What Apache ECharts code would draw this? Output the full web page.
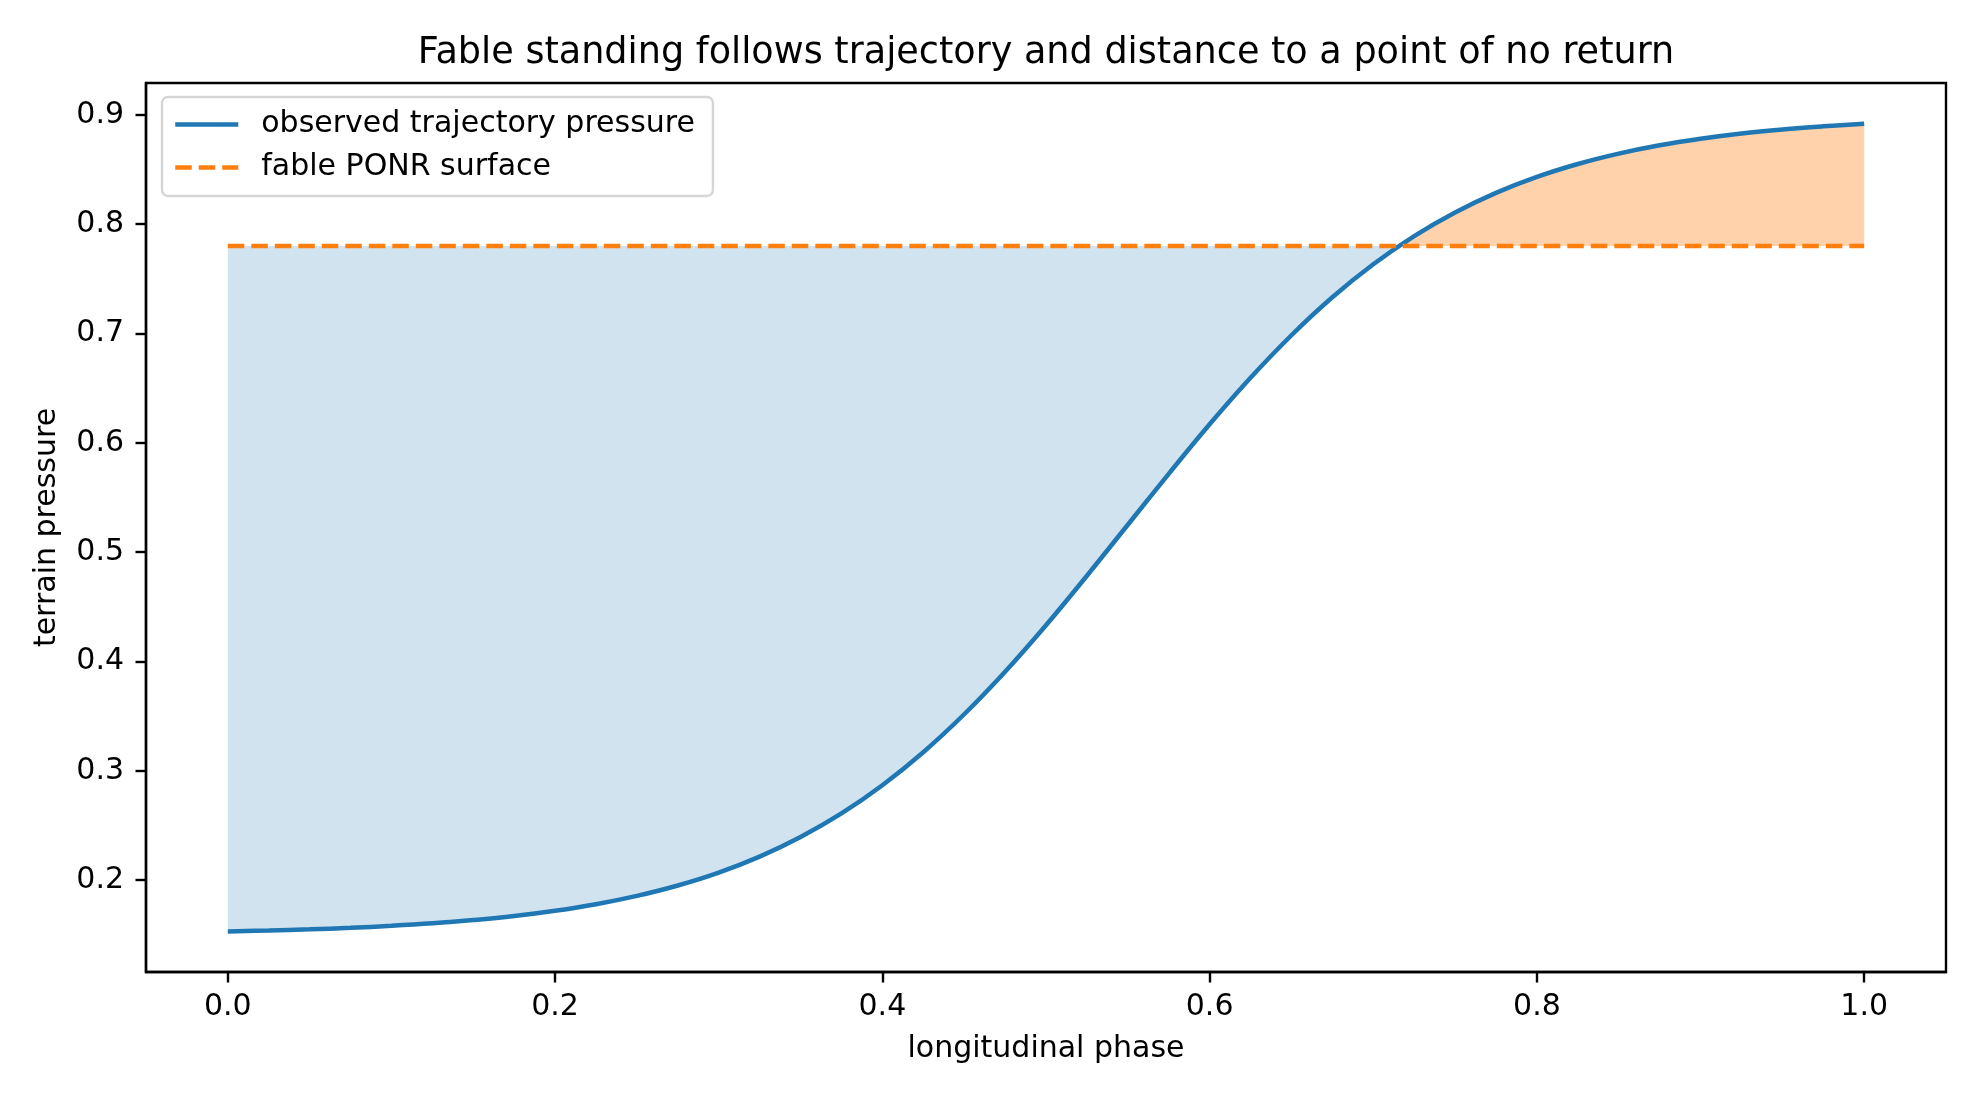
<!DOCTYPE html>
<html>
<head>
<meta charset="utf-8">
<title>Fable standing</title>
<script src="https://cdn.jsdelivr.net/npm/echarts@6/dist/echarts.min.js"></script>
<style>
  html, body { margin: 0; padding: 0; background: #fff; }
  #chart { width: 1980px; height: 1100px; }
</style>
</head>
<body>
<div id="chart"></div>
<script>
// longitudinal phase samples and the observed pressure
const phase = [
  0.000, 0.025, 0.050, 0.075, 0.100, 0.125, 0.150, 0.175, 0.200, 0.225,
  0.250, 0.275, 0.300, 0.325, 0.350, 0.375, 0.400, 0.425, 0.450, 0.475,
  0.500, 0.525, 0.550, 0.575, 0.600, 0.625, 0.650, 0.675, 0.700, 0.725,
  0.750, 0.775, 0.800, 0.825, 0.850, 0.875, 0.900, 0.925, 0.950, 0.975, 1.000
];
const pressure = [
  0.1531, 0.1539, 0.1550, 0.1564, 0.1582, 0.1605, 0.1635, 0.1672, 0.1720, 0.1780,
  0.1856, 0.1951, 0.2069, 0.2215, 0.2394, 0.2610, 0.2868, 0.3170, 0.3517, 0.3906,
  0.4331, 0.4784, 0.5250, 0.5716, 0.6169, 0.6594, 0.6983, 0.7330, 0.7632, 0.7890,
  0.8106, 0.8285, 0.8431, 0.8549, 0.8644, 0.8720, 0.8780, 0.8828, 0.8865, 0.8894, 0.8918
];
const ponrLevel = 0.78;   // fable PONR surface
const crossPhase = 0.716; // where the curve passes the surface

const xTicks = [0.0, 0.2, 0.4, 0.6, 0.8, 1.0];
const yTicks = [0.2, 0.3, 0.4, 0.5, 0.6, 0.7, 0.8, 0.9];

const curve = phase.map((x, i) => [x, pressure[i]]);
const below = curve.filter(p => p[0] < crossPhase).concat([[crossPhase, ponrLevel]]);
const above = [[crossPhase, ponrLevel]].concat(curve.filter(p => p[0] > crossPhase));
const ponrLine = [[phase[0], ponrLevel], [phase[phase.length - 1], ponrLevel]];

const FONT = 'DejaVu Sans';
const SMOOTH = 0.4;

const chart = echarts.init(document.getElementById('chart'), null, { renderer: 'canvas' });

chart.setOption({
  animation: false,
  backgroundColor: '#ffffff',
  textStyle: { fontFamily: FONT, color: '#000' },
  title: {
    text: 'Fable standing follows trajectory and distance to a point of no return',
    left: 1046,
    top: 35,
    padding: 0,
    textAlign: 'center',
    textVerticalAlign: 'top',
    textStyle: { fontFamily: FONT, fontSize: 36.6, fontWeight: 'normal', color: '#000' }
  },
  legend: {
    orient: 'vertical',
    left: 162,
    top: 97,
    padding: [12.5, 18, 13.5, 11],
    itemGap: 13,
    itemWidth: 63,
    itemHeight: 30,
    backgroundColor: '#fff',
    borderColor: '#d5d5d5',
    borderWidth: 2.4,
    borderRadius: 6,
    itemStyle: { opacity: 0 },
    lineStyle: { width: 4.5 },
    textStyle: { fontFamily: FONT, fontSize: 30, lineHeight: 30, color: '#000', padding: [0, 0, 0, 18] },
    data: ['observed trajectory pressure', 'fable PONR surface']
  },
  grid: {
    left: 146,
    right: 34,
    top: 83,
    bottom: 128,
    show: true,
    borderColor: '#000',
    borderWidth: 2.4,
    backgroundColor: 'transparent'
  },
  xAxis: {
    type: 'value',
    min: -0.05,
    max: 1.05,
    name: 'longitudinal phase',
    nameLocation: 'middle',
    nameGap: 62,
    nameTextStyle: { fontFamily: FONT, fontSize: 30, color: '#000' },
    axisLine: { show: true, onZero: false, lineStyle: { color: '#000', width: 2.4 } },
    splitLine: { show: false },
    axisTick: { show: true, inside: false, length: 10.5, lineStyle: { color: '#000', width: 2.4 }, customValues: xTicks },
    axisLabel: {
      margin: 20, fontFamily: FONT, fontSize: 30, color: '#000',
      customValues: xTicks,
      formatter: v => v.toFixed(1)
    }
  },
  yAxis: {
    type: 'value',
    min: 0.116,
    max: 0.929,
    name: 'terrain pressure',
    nameLocation: 'middle',
    nameRotate: 90,
    nameGap: 84,
    nameTextStyle: { fontFamily: FONT, fontSize: 30, color: '#000' },
    axisLine: { show: true, onZero: false, lineStyle: { color: '#000', width: 2.4 } },
    splitLine: { show: false },
    axisTick: { show: true, inside: false, length: 10.5, lineStyle: { color: '#000', width: 2.4 }, customValues: yTicks },
    axisLabel: {
      margin: 22, fontFamily: FONT, fontSize: 30, color: '#000',
      customValues: yTicks,
      formatter: v => v.toFixed(1)
    }
  },
  series: [
    {
      name: 'below surface',
      type: 'line',
      data: below,
      showSymbol: false,
      silent: true,
      smooth: SMOOTH,
      lineStyle: { width: 0, opacity: 0 },
      areaStyle: { color: '#d2e3f0', opacity: 1, origin: ponrLevel },
      z: 1
    },
    {
      name: 'above surface',
      type: 'line',
      data: above,
      showSymbol: false,
      silent: true,
      smooth: SMOOTH,
      lineStyle: { width: 0, opacity: 0 },
      areaStyle: { color: '#ffd2ab', opacity: 1, origin: ponrLevel },
      z: 1
    },
    {
      name: 'observed trajectory pressure',
      type: 'line',
      data: curve,
      showSymbol: false,
      smooth: SMOOTH,
      color: '#1f77b4',
      lineStyle: { color: '#1f77b4', width: 4.5 },
      z: 3
    },
    {
      name: 'fable PONR surface',
      type: 'line',
      data: ponrLine,
      showSymbol: false,
      color: '#ff7f0e',
      lineStyle: { color: '#ff7f0e', width: 4.5, type: [16.5, 7] },
      z: 4
    }
  ]
});
</script>
</body>
</html>
